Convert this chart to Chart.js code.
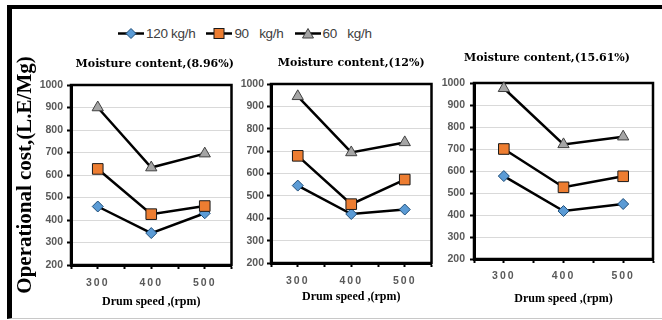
<!DOCTYPE html>
<html>
<head>
<meta charset="utf-8">
<script src="https://cdn.jsdelivr.net/npm/chart.js@4.4.1/dist/chart.umd.min.js"></script>
<style>
  html, body { margin: 0; padding: 0; background: #fff; }
  #wrap { position: relative; width: 662px; height: 320px; overflow: hidden; }
  #frame { position: absolute; left: 7px; top: 5px; width: 700px; height: 309px;
           border-top: 4px solid #000; border-left: 5px solid #000; border-bottom: 1px solid #c8c8c8; }
  canvas { position: absolute; }
  #c1 { left: 12px; top: 44px; }
  #c2 { left: 240px; top: 44px; }
  #c3 { left: 440px; top: 44px; }
  #legend { position: absolute; left: 118px; top: 25px; height: 16px; display: flex; align-items: center;
            font-family: "Liberation Sans", sans-serif; font-size: 13.5px; letter-spacing: -0.3px; color: #404040; white-space: pre; }
  #legend .item { display: flex; align-items: center; margin-right: 11px; }
  #legend span { margin-left: 2px; }
</style>
</head>
<body>
<div id="wrap">
  <div id="frame"></div>
  <div id="legend"></div>
  <canvas id="c1" width="228" height="266"></canvas>
  <canvas id="c2" width="200" height="266"></canvas>
  <canvas id="c3" width="222" height="266"></canvas>
</div>
<script>
// drum speed (rpm) - x values and tick labels
var speeds = [300, 400, 500];
var seriesNames = ['120 kg/h', '90   kg/h', '60   kg/h'];
var panelTitles = ['Moisture content,(8.96%)', 'Moisture content,(12%)', 'Moisture content,(15.61%)'];

// operational cost (L.E/Mg), moisture content 8.96%
var cost896_120 = [460, 342, 430];
var cost896_90 = [627, 426, 462];
var cost896_60 = [900, 633, 695];

// moisture content 12%
var cost12_120 = [546, 419, 439];
var cost12_90 = [679, 463, 573];
var cost12_60 = [945, 694, 739];

// moisture content 15.61%
var cost1561_120 = [577, 418, 450];
var cost1561_90 = [700, 526, 576];
var cost1561_60 = [976, 721, 756];

var seriesStyles = [
  { shape: 'rectRot', r: 5.5, fill: '#5B9BD5', edge: '#1F4E79' },
  { shape: 'rect', r: 7.5, fill: '#ED7D31', edge: '#1a1a1a' },
  { shape: 'triangle', r: 6.5, fill: '#A5A5A5', edge: '#404040' }
];

// legend
var legendBox = document.getElementById('legend');
var markerSvg = [
  '<polygon points="13,2.5 18,7.5 13,12.5 8,7.5" fill="#5B9BD5" stroke="#1F4E79" stroke-width="1"/>',
  '<rect x="8" y="2.5" width="10" height="10" fill="#ED7D31" stroke="#1a1a1a" stroke-width="1"/>',
  '<polygon points="13,2.5 18.5,12 7.5,12" fill="#A5A5A5" stroke="#404040" stroke-width="1"/>'
];
seriesNames.forEach(function(name, i) {
  var item = document.createElement('div');
  item.className = 'item';
  item.innerHTML = '<svg width="26" height="15"><line x1="0" y1="7.5" x2="26" y2="7.5" stroke="#000" stroke-width="2.5"/>' +
    markerSvg[i] + '</svg><span>' + name + '</span>';
  legendBox.appendChild(item);
});

// frame round the plot area + panel title
var panelDecor = {
  id: 'panelDecor',
  beforeDatasetsDraw: function(chart, args, opts) {
    var ctx = chart.ctx, a = chart.chartArea;
    ctx.save();
    ctx.strokeStyle = '#000';
    ctx.lineWidth = 2.5;
    ctx.strokeRect(a.left, a.top, a.right - a.left, a.bottom - a.top);
    ctx.restore();
  },
  afterDraw: function(chart, args, opts) {
    var ctx = chart.ctx, a = chart.chartArea;
    ctx.save();
    ctx.font = 'bold 11px "DejaVu Serif"';
    ctx.fillStyle = '#000';
    ctx.textAlign = 'center';
    ctx.textBaseline = 'middle';
    ctx.fillText(opts.text, (a.left + a.right) / 2 + opts.dx, a.top + opts.dy);
    ctx.restore();
  }
};

function makeDatasets(v120, v90, v60) {
  return [v120, v90, v60].map(function(vals, i) {
    var st = seriesStyles[i];
    return {
      label: seriesNames[i],
      data: speeds.map(function(s, j) { return { x: s, y: vals[j] }; }),
      borderColor: '#000',
      borderWidth: 2.5,
      pointStyle: st.shape,
      pointRadius: st.r,
      pointBackgroundColor: st.fill,
      pointBorderColor: st.edge,
      pointBorderWidth: 1,
      tension: 0,
      clip: false,
      order: 3 - i
    };
  });
}

var yTickFont = { family: 'Liberation Sans', weight: 'bold', size: 10.5 };
var xTickFont = { family: 'Liberation Sans', weight: 'bold', size: 10.5 };
var axisTitleFont = { family: 'Liberation Serif', weight: 'bold', size: 12 };

// spaced-out x tick labels, as in the picture
function spaceLabels(s) {
  if (s._spaced) return;
  var orig = s.drawLabels;
  s.drawLabels = function(area) {
    this.ctx.save();
    this.ctx.letterSpacing = '2px';
    orig.call(this, area);
    this.ctx.restore();
  };
  s._spaced = true;
}

function makeChart(id, datasets, p) {
  return new Chart(document.getElementById(id), {
    type: 'line',
    data: { datasets: datasets },
    plugins: [panelDecor],
    options: {
      responsive: false,
      animation: false,
      layout: { padding: { top: p.top, right: p.right, left: 0, bottom: 0 } },
      plugins: {
        legend: { display: false },
        tooltip: { enabled: false },
        panelDecor: { text: p.title, dx: p.dx, dy: p.dy }
      },
      scales: {
        x: {
          type: 'linear', min: 250, max: 550,
          ticks: {
            stepSize: 50, autoSkip: false, maxRotation: 0, color: '#595959', font: xTickFont, padding: p.xpad,
            callback: function(v) { return speeds.indexOf(v) >= 0 ? String(v) : ''; }
          },
          grid: { drawOnChartArea: false, tickLength: 4, tickColor: '#000', tickWidth: 2 },
          border: { color: '#000', width: 3 },
          title: { display: true, text: 'Drum speed ,(rpm)', color: '#000', font: axisTitleFont,
                   padding: { top: 0, bottom: p.tpad } },
          afterFit: function(s) { s.height = p.xh; spaceLabels(s); }
        },
        y: {
          min: 200, max: 1000,
          ticks: { stepSize: 100, color: '#595959', font: yTickFont, padding: p.ypad,
                   callback: function(v) { return String(v); } },
          grid: { color: '#D9D9D9', lineWidth: 1, tickLength: 4, tickColor: '#000', tickWidth: 2 },
          border: { color: '#000', width: 3 },
          title: {
            display: !!p.ytitle, text: p.ytitle || '', color: '#000',
            font: { family: 'Liberation Serif', weight: 'bold', size: 21 }, padding: { top: 1, bottom: 0 }
          },
          afterFit: function(s) { s.width = p.yw; }
        }
      }
    }
  });
}

makeChart('c1', makeDatasets(cost896_120, cost896_90, cost896_60),
  { title: panelTitles[0], dx: 3.5, dy: -21, top: 41, right: 2, yw: 59, xh: 45, xpad: 8, tpad: 1, ypad: 4,
    ytitle: 'Operational cost,(L.E/Mg)' });
makeChart('c2', makeDatasets(cost12_120, cost12_90, cost12_60),
  { title: panelTitles[1], dx: 0, dy: -21, top: 40, right: 3, yw: 31, xh: 47, xpad: 8, tpad: 6, ypad: 3 });
makeChart('c3', makeDatasets(cost1561_120, cost1561_90, cost1561_60),
  { title: panelTitles[2], dx: -16.5, dy: -25, top: 39, right: 9, yw: 34, xh: 51, xpad: 7, tpad: 4, ypad: 5 });
</script>
</body>
</html>
